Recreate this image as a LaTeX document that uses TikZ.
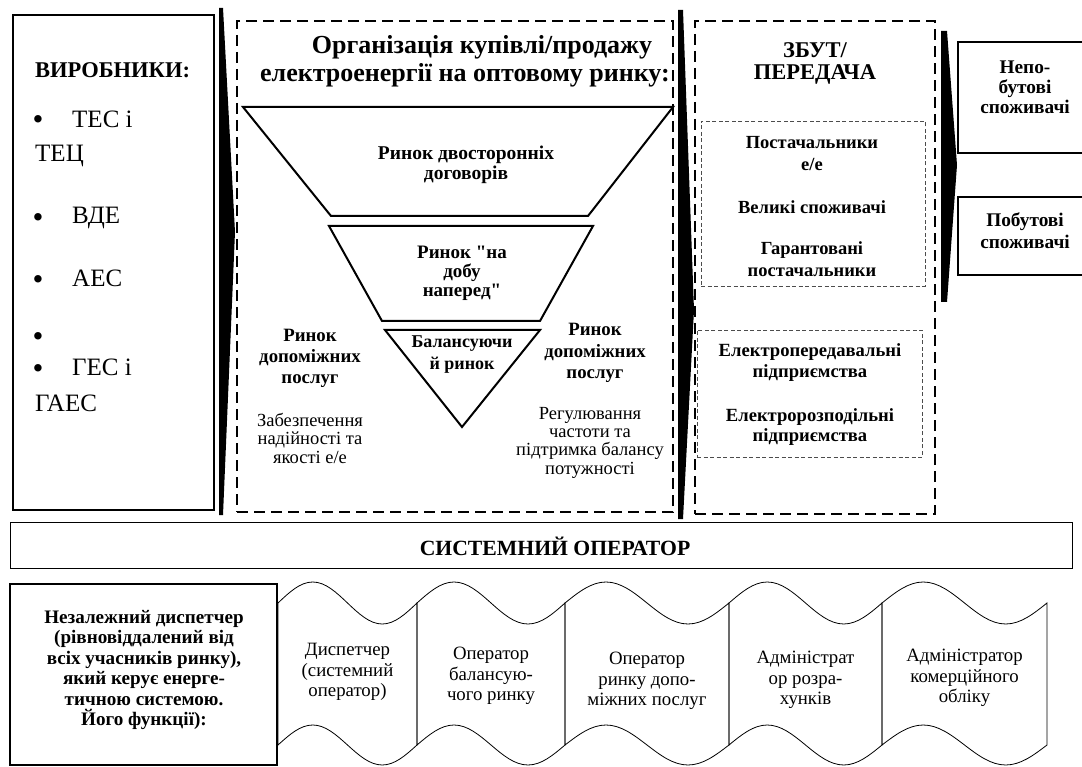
\documentclass[tikz,border=0pt]{standalone}
\usepackage{fontspec}
\setmainfont{Liberation Serif}
\usetikzlibrary{positioning}
\newcommand{\sz}[2]{\fontsize{#1}{#2}\selectfont}
\newcommand{\rectnode}[6]{%
  \pgfmathsetmacro{\bw}{#5-#3}\pgfmathsetmacro{\bh}{#6-#4}%
  \node[#1,anchor=north west,minimum width=\bw pt,minimum height=\bh pt] (#2) at (#3,#4) {};}
\newcommand{\tapebox}[5]{%
  \pgfmathsetmacro{\wq}{(#2-#1)/4}%
  \draw[tape] (#1,603) sin ++(\wq,-21) cos ++(\wq,21) sin ++(\wq,21) cos ++(\wq,-21)
    -- ++(0,142) sin ++(-\wq,20) cos ++(-\wq,-20) sin ++(-\wq,-20) cos ++(-\wq,20) -- cycle;
  \node[txt,font=\sz{18.8}{20.2}] (#3) at ({(#1+#2)/2},#4) {#5};}

\begin{document}
\begin{tikzpicture}[
  x=1pt,y=-1pt,
  txt/.style={align=center,inner sep=0pt},
  thickbox/.style={draw,line width=2pt,inner sep=0pt,outer sep=0pt},
  dashbox/.style={draw,line width=1.5pt,dash pattern=on 11pt off 6pt,inner sep=0pt,outer sep=0pt},
  thindash/.style={draw=black!70,line width=0.8pt,dash pattern=on 4pt off 2.5pt,inner sep=0pt,outer sep=0pt},
  thinbox/.style={draw,line width=1pt,inner sep=0pt,outer sep=0pt},
  funnel/.style={draw,line width=2pt,line join=miter},
  tape/.style={draw,line width=0.8pt},
]
\useasboundingbox (0,0) rectangle (1082,767);

% ===== PRODUCERS =====
\rectnode{thickbox}{vyrob}{12.7}{15}{214}{510}
\node[anchor=base west,inner sep=0pt,font=\sz{22.5}{24}\bfseries] (vyrobhead) at (35,78) {ВИРОБНИКИ:};
\foreach \yb/\lbl in {128/ТЕС і,224/ВДЕ,287/АЕС,375/ГЕС і}{
  \node[anchor=base west,inner sep=0pt,font=\sz{25}{28}] (item\yb) at (72,\yb) {\lbl};}
\foreach \yb in {130,228,290,347,378}{
  \node[anchor=base,inner sep=0pt,font=\sz{31}{31}] (dot\yb) at (38,\yb) {•};}
\node[anchor=base west,inner sep=0pt,font=\sz{25}{28}] (tets) at (35,162) {ТЕЦ};
\node[anchor=base west,inner sep=0pt,font=\sz{25}{28}] (gaes) at (35,411) {ГАЕС};

% ===== separators =====
\fill (219,8) -- (223,8) -- (235,232) -- (223,515) -- (219,515) -- cycle;
\fill (678,10) -- (683,10) -- (694,310) -- (683,519) -- (678,519) -- cycle;
\fill (941,31) -- (947,31) -- (957,165) -- (947,302) -- (941,302) -- cycle;

% ===== WHOLESALE MARKET =====
\rectnode{dashbox}{market}{237}{21}{673}{512}
\node[txt,font=\sz{26}{28}\bfseries] (markethead) at (465,61) {\hspace*{34pt}Організація купівлі/продажу\\електроенергії на оптовому ринку:};
\draw[funnel] (243,107) -- (673,107) -- (588,216) -- (331,216) -- cycle;
\draw[funnel] (329,226) -- (593,226) -- (540,321) -- (382,321) -- cycle;
\draw[funnel] (385,330) -- (540,330) -- (462,427) -- cycle;
\node[txt,font=\sz{19.5}{20}\bfseries] (bilat) at (466,165) {Ринок двосторонніх\\договорів};
\node[txt,font=\sz{19}{19}\bfseries] (dayahead) at (462,273) {Ринок \textquotedbl на\\добу\\наперед\textquotedbl};
\node[txt,font=\sz{18}{22}\bfseries] (balance) at (462,355) {Балансуючи\\й ринок};
\node[txt,font=\sz{18.8}{21}\bfseries] (auxl) at (310,358) {Ринок\\допоміжних\\послуг};
\node[txt,font=\sz{18.5}{18.5}] (auxltext) at (310,438) {Забезпечення\\надійності та\\якості е/е};
\node[txt,font=\sz{18.8}{21.5}\bfseries] (auxr) at (595,353) {Ринок\\допоміжних\\послуг};
\node[txt,font=\sz{18.5}{18.3}] (auxrtext) at (590,442.5) {Регулювання\\частоти та\\підтримка балансу\\потужності};

% ===== SALES / TRANSMISSION =====
\rectnode{dashbox}{sales}{695}{21}{935}{514}
\node[txt,font=\sz{22.5}{22}\bfseries] (saleshead) at (815,63) {ЗБУТ/\\ПЕРЕДАЧА};
\rectnode{thindash}{suppl}{701}{121}{925}{286}
\node[txt,font=\sz{18.5}{22}\bfseries] (supplA) at (812,154) {Постачальники\\е/е};
\node[txt,font=\sz{18.5}{22}\bfseries] (supplB) at (812,207) {Великі споживачі};
\node[txt,font=\sz{18.5}{22}\bfseries] (supplC) at (812,259) {Гарантовані\\постачальники};
\rectnode{thindash}{grid}{697}{330}{922}{457}
\node[txt,font=\sz{18.6}{21}\bfseries] (gridA) at (810,362.5) {Електропередавальні\\підприємства};
\node[txt,font=\sz{18.6}{20}\bfseries] (gridB) at (810,427) {Електророзподільні\\підприємства};

% ===== CONSUMERS =====
\rectnode{thickbox}{nonhome}{958}{42}{1095}{153}
\node[txt,font=\sz{19.3}{20}\bfseries] (nonhometext) at (1025,87) {Непо-\\бутові\\споживачі};
\rectnode{thickbox}{home}{958}{197}{1095}{275}
\node[txt,font=\sz{19.3}{22}\bfseries] (hometext) at (1025,231) {Побутові\\споживачі};

% ===== SYSTEM OPERATOR =====
\rectnode{thinbox}{sysop}{10}{522}{1072}{568}
\node[txt,font=\sz{21.7}{24}\bfseries] (sysoptext) at (555,546) {СИСТЕМНИЙ ОПЕРАТОР};
\rectnode{thickbox}{dispatch}{9.6}{584}{277}{765}
\node[txt,font=\sz{19.1}{20.4}\bfseries] (dispatchtext) at (144,670) {Незалежний диспетчер\\(рівновіддалений від\\всіх учасників ринку),\\який керує енерге-\\тичною системою.\\Його функції):};

% ===== functions =====
\tapebox{278}{417}{fdisp}{672}{Диспетчер\\(системний\\оператор)}
\tapebox{417}{565}{fbal}{676}{Оператор\\балансую-\\чого ринку}
\tapebox{565}{729}{faux}{681}{Оператор\\ринку допо-\\міжних послуг}
\tapebox{729}{882}{fsettle}{680}{Адміністрат\\ор розра-\\хунків}
\tapebox{882}{1047}{fmeter}{678}{Адміністратор\\комерційного\\обліку}

\end{tikzpicture}
\end{document}
